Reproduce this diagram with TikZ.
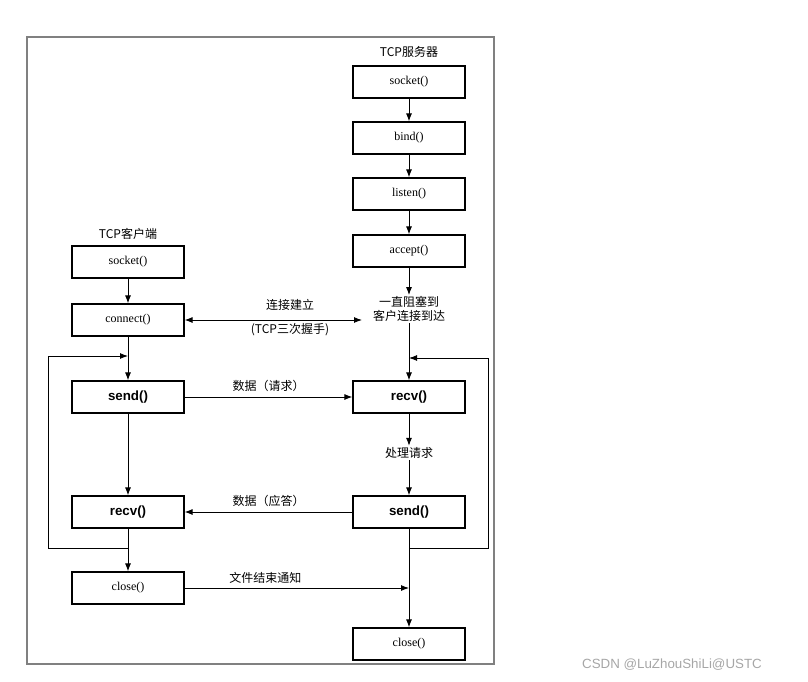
\documentclass[tikz,border=0pt]{standalone}
\usepackage{fontspec}
\setmainfont{Liberation Serif}
\newfontfamily\cjk{Noto Sans CJK SC}
\newfontfamily\sans{Liberation Sans}
\usetikzlibrary{arrows.meta}
\begin{document}
\begin{tikzpicture}[x=0.75pt,y=-0.75pt,
 box/.style={draw,line width=0.9pt,minimum width=84pt,minimum height=24pt,inner sep=0pt,font=\fontsize{9}{10}\selectfont},
 bbox/.style={box,font=\sans\bfseries\fontsize{10}{11}\selectfont},
 lab/.style={font=\cjk\fontsize{9}{10}\selectfont,inner sep=1pt},
 ar/.style={-{Latex[length=6pt,width=4.5pt]},line width=0.7pt},
 ln/.style={line width=0.7pt}]
\useasboundingbox (0,0) rectangle (808,682);
\draw[gray,line width=0.8pt] (27,37) rectangle (494,664);
% server
\node[lab] (st) at (409,52) {TCP服务器};
\node[box] (ssock) at (409,82) {socket()};
\node[box] (sbind) at (409,138) {bind()};
\node[box] (slis) at (409,194) {listen()};
\node[box] (sacc) at (409,251) {accept()};
\node[lab,align=center] (blk) at (409,309) {一直阻塞到\\客户连接到达};
\node[bbox] (srecv) at (409,397) {recv()};
\node[lab] (proc) at (409,453) {处理请求};
\node[bbox] (ssend) at (409,512) {send()};
\node[box] (sclose) at (409,644) {close()};
% client
\node[lab] (ct) at (128,234) {TCP客户端};
\node[box] (csock) at (128,262) {socket()};
\node[box] (cconn) at (128,320) {connect()};
\node[bbox] (csend) at (128,397) {send()};
\node[bbox] (crecv) at (128,512) {recv()};
\node[box] (cclose) at (128,588) {close()};
% vertical
\draw[ar] (ssock) -- (sbind);
\draw[ar] (sbind) -- (slis);
\draw[ar] (slis) -- (sacc);
\draw[ar] (sacc) -- (blk);
\draw[ar] (blk) -- (srecv);
\draw[ar] (srecv) -- (proc);
\draw[ar] (proc) -- (ssend);
\draw[ar] (ssend) -- (sclose);
\draw[ar] (csock) -- (cconn);
\draw[ar] (cconn) -- (csend);
\draw[ar] (csend) -- (crecv);
\draw[ar] (crecv) -- (cclose);
% loops
\coordinate (cl1) at (128,548); \coordinate (cl2) at (128,356);
\draw[ar] (cl1) -- (48,548) -- (48,356) -- (cl2);
\coordinate (sl1) at (409,548); \coordinate (sl2) at (409,358);
\draw[ar] (sl1) -- (488,548) -- (488,358) -- (sl2);
% horizontal
\coordinate (cn) at (362,320);
\draw[{Latex[length=6pt,width=4.5pt]}-{Latex[length=6pt,width=4.5pt]},line width=0.7pt] (cconn) -- (cn);
\node[lab] (lb1) at (290,305) {连接建立};
\node[lab] (lb2) at (290,330) {(TCP三次握手)};
\draw[ar] (csend) -- (srecv) node[lab,midway,above=3pt] {数据（请求）};
\draw[ar] (ssend) -- (crecv) node[lab,midway,above=3pt] {数据（应答）};
\coordinate (ce) at (409,588);
\draw[ar] (cclose) -- (ce) node[lab,pos=0.36,above=2pt] {文件结束通知};
\node[font=\sans\fontsize{10}{11}\selectfont,text=gray!70] (wm) at (672,665) {CSDN @LuZhouShiLi@USTC};
\end{tikzpicture}
\end{document}
